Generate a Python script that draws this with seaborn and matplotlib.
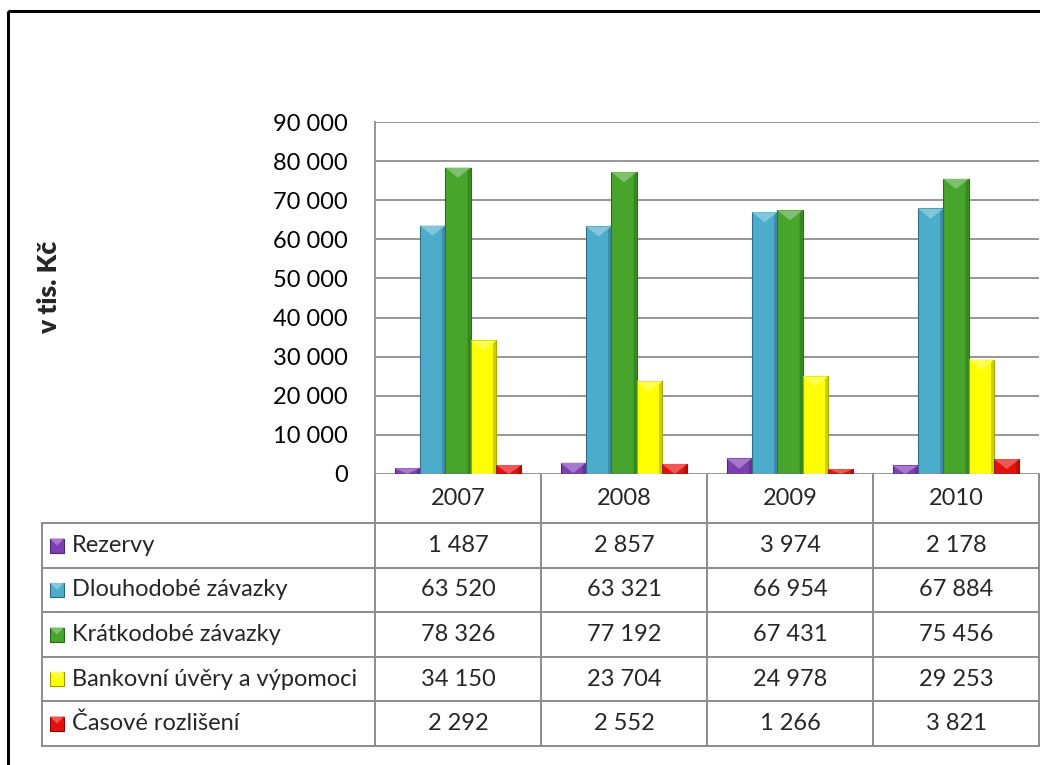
import matplotlib
matplotlib.use("Agg")
import matplotlib.pyplot as plt
import matplotlib.transforms as mtransforms
from matplotlib.patches import Polygon, Rectangle
from matplotlib.colors import to_rgb
import numpy as np
import pandas as pd
import seaborn as sns

# --- data (v tis. Kč) ---
years = ["2007", "2008", "2009", "2010"]
series = ["Rezervy", "Dlouhodobé závazky", "Krátkodobé závazky",
          "Bankovní úvěry a výpomoci", "Časové rozlišení"]
rezervy = [1487, 2857, 3974, 2178]
dlouhodobe = [63520, 63321, 66954, 67884]
kratkodobe = [78326, 77192, 67431, 75456]
bankovni = [34150, 23704, 24978, 29253]
casove = [2292, 2552, 1266, 3821]
yticks = [0, 10000, 20000, 30000, 40000, 50000, 60000, 70000, 80000, 90000]

colors = ["#7E3FB5", "#4BADCB", "#47A52C", "#FFFF00", "#E3100C"]

values = [rezervy, dlouhodobe, kratkodobe, bankovni, casove]
df = pd.DataFrame(
    [(y, s, v[i]) for s, v in zip(series, values) for i, y in enumerate(years)],
    columns=["rok", "polozka", "hodnota"],
)

sns.set_theme(style="white")
plt.rcParams["font.family"] = ["Lato", "DejaVu Sans"]

W, H = 1040, 765
fig = plt.figure(figsize=(W / 100, H / 100), dpi=100)

# pixel geometry of the plotting area
x0, x1, ytop, ybot = 375, 1039, 122, 474
ax = fig.add_axes([x0 / W, 1 - ybot / H, (x1 - x0) / W, (ybot - ytop) / H])
ax.set_facecolor("none")

# overlay in pixel coordinates for the data table and frame
ov = fig.add_axes([0, 0, 1, 1], zorder=-1)
ov.set_xlim(0, W)
ov.set_ylim(H, 0)
ov.axis("off")

grid_c = "#969696"
for t in yticks:
    ax.axhline(t, color=grid_c, lw=1.4, zorder=0)

sns.barplot(data=df, x="rok", y="hodnota", hue="polozka", hue_order=series,
            palette=colors, width=0.765, saturation=1, legend=False,
            ax=ax, zorder=2)

def shade(c, f):
    r = np.array(to_rgb(c))
    if f >= 0:
        return tuple(r + (1 - r) * f)
    return tuple(r * (1 + f))

# bevel styling on each bar
for p in ax.patches:
    fc = p.get_facecolor()[:3]
    bx, by = p.get_x(), p.get_y()
    bw, bh = p.get_width(), p.get_height()
    p.set_edgecolor(shade(fc, -0.35))
    p.set_linewidth(0.8)
    # top bevel: lighter triangle, depth in pixels converted to data
    px_per_y = (ybot - ytop) / 90000
    bw_px = bw * (x1 - x0) / 4
    d = min(bw_px * 0.4, bh * px_per_y) / px_per_y
    top = by + bh
    ax.add_patch(Polygon([(bx, top), (bx + bw, top), (bx + bw / 2, top - d)],
                         closed=True, facecolor=shade(fc, 0.3),
                         edgecolor="none", zorder=3))
    # right side darker strip
    s = bw * 0.12
    ax.add_patch(Polygon([(bx + bw - s, by), (bx + bw, by), (bx + bw, top),
                          (bx + bw - s, top - d * 0.3)], closed=True,
                         facecolor=shade(fc, -0.2), edgecolor="none", zorder=3))

ax.set_xlim(-0.5, 3.5)
ax.set_ylim(0, 90000)
ax.set_yticks(yticks)
ax.set_yticklabels(["0" if t == 0 else f"{t:,}".replace(",", " ") for t in yticks])
ax.tick_params(axis="y", length=0, pad=19.5, labelsize=17, labelcolor="black")
ax.set_xticks([])
ax.set_xlabel("")
ax.set_ylabel("")
for side in ["top", "right", "bottom"]:
    ax.spines[side].set_visible(False)
ax.spines["left"].set_color(grid_c)
ax.spines["left"].set_linewidth(1.4)

# data table beneath the plot
line_kw = dict(color="#8c8c8c", lw=1.4)
rows = [523, 568, 612, 657, 701, 746]
lx = 42
blend = mtransforms.blended_transform_factory(ax.transData, ov.transData)
for i in range(len(years) + 1):
    ov.plot([i - 0.5, i - 0.5], [ybot, rows[-1]], transform=blend, **line_kw)
ov.plot([lx, lx], [rows[0], rows[-1]], **line_kw)
for r in rows:
    ov.plot([lx, x1], [r, r], **line_kw)

fs = 17
for i, y in enumerate(years):
    ov.text(i, (ybot + rows[0]) / 2, y, transform=blend, ha="center",
            va="center", fontsize=fs)

for k, (name, vals, c) in enumerate(zip(series, values, colors)):
    yc = (rows[k] + rows[k + 1]) / 2
    # legend key with bevel
    ov.add_patch(Rectangle((50, yc - 7), 14, 14, facecolor=c,
                           edgecolor=shade(c, -0.4), lw=0.8))
    ov.add_patch(Polygon([(50, yc - 7), (64, yc - 7), (57, yc)], closed=True,
                         facecolor=shade(c, 0.3), edgecolor="none"))
    ov.text(72, yc, name, ha="left", va="center", fontsize=fs)
    for i, v in enumerate(vals):
        ov.text(i, yc, f"{v:,}".replace(",", " "), transform=blend,
                ha="center", va="center", fontsize=fs)

# y-axis title
ov.text(49, 287, "v tis. Kč", rotation=90, ha="center", va="center",
        fontsize=19, fontweight="heavy")

# outer frame
ov.add_patch(Rectangle((8, 11), 1100, 900, facecolor="none",
                       edgecolor="black", lw=2.2))

fig.savefig("out.png", dpi=100, facecolor="white")
